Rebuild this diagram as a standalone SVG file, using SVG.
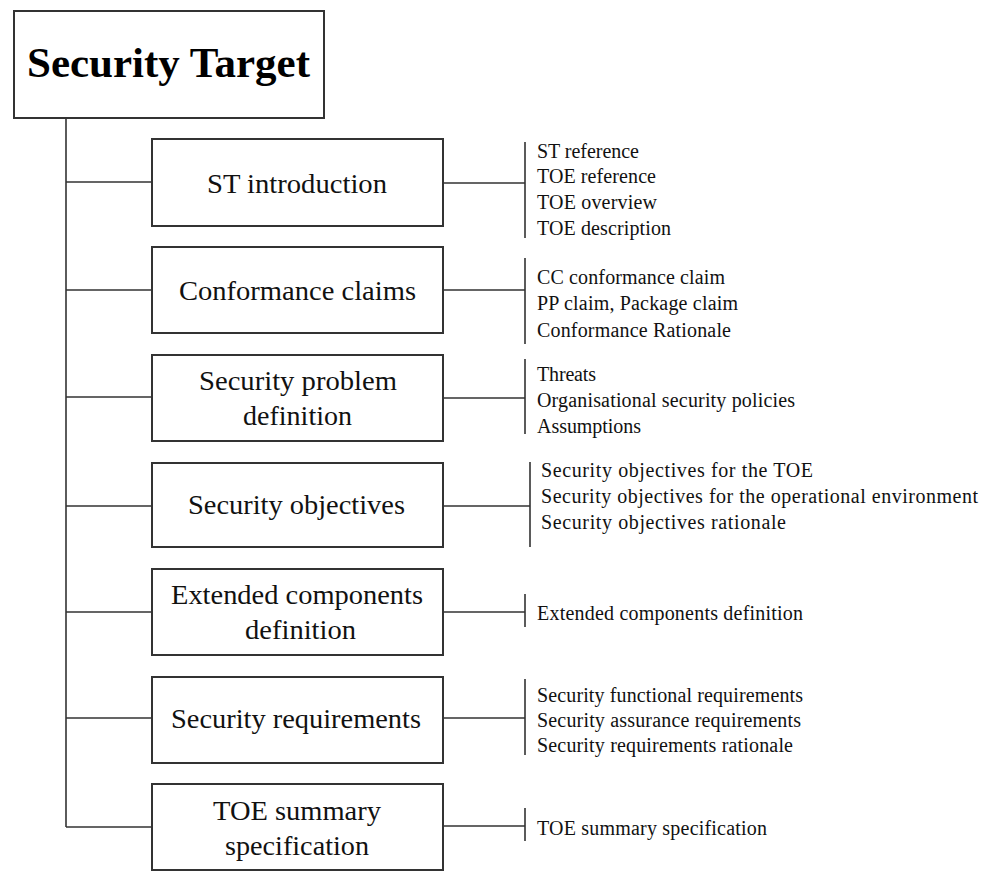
<svg xmlns="http://www.w3.org/2000/svg" width="987" height="878" viewBox="0 0 987 878">
<style>
.box{fill:#fff;stroke:#333;stroke-width:2}
.ln{stroke:#333;stroke-width:1.6;fill:none}
.title{font-family:"Liberation Serif","Times New Roman",serif;font-weight:bold;font-size:42px;fill:#000}
.hd{font-family:"Liberation Serif","Times New Roman",serif;font-size:27px;fill:#111}
.it{font-family:"Liberation Serif","Times New Roman",serif;font-size:20px;fill:#111}
</style>
<rect width="987" height="878" fill="#fff"/>
<g id="connectors" class="ln">
<path d="M66,118 V827"/>
<path d="M66,182 H152 M66,290 H152 M66,397 H152 M66,506 H152 M66,612 H152 M66,718 H152 M66,827 H152"/>
<path d="M443,183 H525 M525,142 V238"/>
<path d="M443,290 H525 M525,258 V344"/>
<path d="M443,398 H525 M525,359 V434"/>
<path d="M443,506 H530 M530,462 V547"/>
<path d="M443,612 H525 M525,594 V627"/>
<path d="M443,718 H525 M525,679 V755"/>
<path d="M443,826 H525 M525,808 V841"/>
</g>
<g id="security-target">
<rect class="box" x="14" y="11" width="310" height="107"/>
<text class="title" x="27" y="77" textLength="283" lengthAdjust="spacingAndGlyphs">Security Target</text>
</g>
<g id="st-introduction">
<rect class="box" x="152" y="139" width="291" height="87"/>
<text class="hd" x="207" y="193" textLength="180" lengthAdjust="spacingAndGlyphs">ST introduction</text>
</g>
<g id="st-introduction-items" class="it">
<text x="537" y="158" textLength="102" lengthAdjust="spacing">ST reference</text>
<text x="537" y="183" textLength="119" lengthAdjust="spacing">TOE reference</text>
<text x="537" y="209" textLength="120" lengthAdjust="spacing">TOE overview</text>
<text x="537" y="235" textLength="134" lengthAdjust="spacing">TOE description</text>
</g>
<g id="conformance-claims">
<rect class="box" x="152" y="247" width="291" height="86"/>
<text class="hd" x="179" y="300" textLength="237" lengthAdjust="spacingAndGlyphs">Conformance claims</text>
</g>
<g id="conformance-claims-items" class="it">
<text x="537" y="284" textLength="188" lengthAdjust="spacing">CC conformance claim</text>
<text x="537" y="310" textLength="201" lengthAdjust="spacing">PP claim, Package claim</text>
<text x="537" y="337" textLength="194" lengthAdjust="spacing">Conformance Rationale</text>
</g>
<g id="security-problem-definition">
<rect class="box" x="152" y="355" width="291" height="86"/>
<text class="hd" x="199" y="390" textLength="198" lengthAdjust="spacingAndGlyphs">Security problem</text>
<text class="hd" x="243" y="425" textLength="109" lengthAdjust="spacingAndGlyphs">definition</text>
</g>
<g id="security-problem-definition-items" class="it">
<text x="537" y="381" textLength="59" lengthAdjust="spacing">Threats</text>
<text x="537" y="407" textLength="258" lengthAdjust="spacing">Organisational security policies</text>
<text x="537" y="433" textLength="104" lengthAdjust="spacing">Assumptions</text>
</g>
<g id="security-objectives">
<rect class="box" x="152" y="463" width="291" height="84"/>
<text class="hd" x="188" y="514" textLength="217" lengthAdjust="spacingAndGlyphs">Security objectives</text>
</g>
<g id="security-objectives-items" class="it">
<text x="541" y="477" textLength="272" lengthAdjust="spacing">Security objectives for the TOE</text>
<text x="541" y="503" textLength="437" lengthAdjust="spacing">Security objectives for the operational environment</text>
<text x="541" y="529" textLength="245" lengthAdjust="spacing">Security objectives rationale</text>
</g>
<g id="extended-components-definition">
<rect class="box" x="152" y="569" width="291" height="86"/>
<text class="hd" x="171" y="604" textLength="252" lengthAdjust="spacingAndGlyphs">Extended components</text>
<text class="hd" x="245" y="639" textLength="111" lengthAdjust="spacingAndGlyphs">definition</text>
</g>
<g id="extended-components-definition-items" class="it">
<text x="537" y="620" textLength="266" lengthAdjust="spacing">Extended components definition</text>
</g>
<g id="security-requirements">
<rect class="box" x="152" y="677" width="291" height="86"/>
<text class="hd" x="171" y="728" textLength="250" lengthAdjust="spacingAndGlyphs">Security requirements</text>
</g>
<g id="security-requirements-items" class="it">
<text x="537" y="702" textLength="266" lengthAdjust="spacing">Security functional requirements</text>
<text x="537" y="727" textLength="264" lengthAdjust="spacing">Security assurance requirements</text>
<text x="537" y="752" textLength="256" lengthAdjust="spacing">Security requirements rationale</text>
</g>
<g id="toe-summary-specification">
<rect class="box" x="152" y="784" width="291" height="86"/>
<text class="hd" x="213" y="820" textLength="168" lengthAdjust="spacingAndGlyphs">TOE summary</text>
<text class="hd" x="225" y="855" textLength="144" lengthAdjust="spacingAndGlyphs">specification</text>
</g>
<g id="toe-summary-specification-items" class="it">
<text x="537" y="835" textLength="230" lengthAdjust="spacing">TOE summary specification</text>
</g>
</svg>
